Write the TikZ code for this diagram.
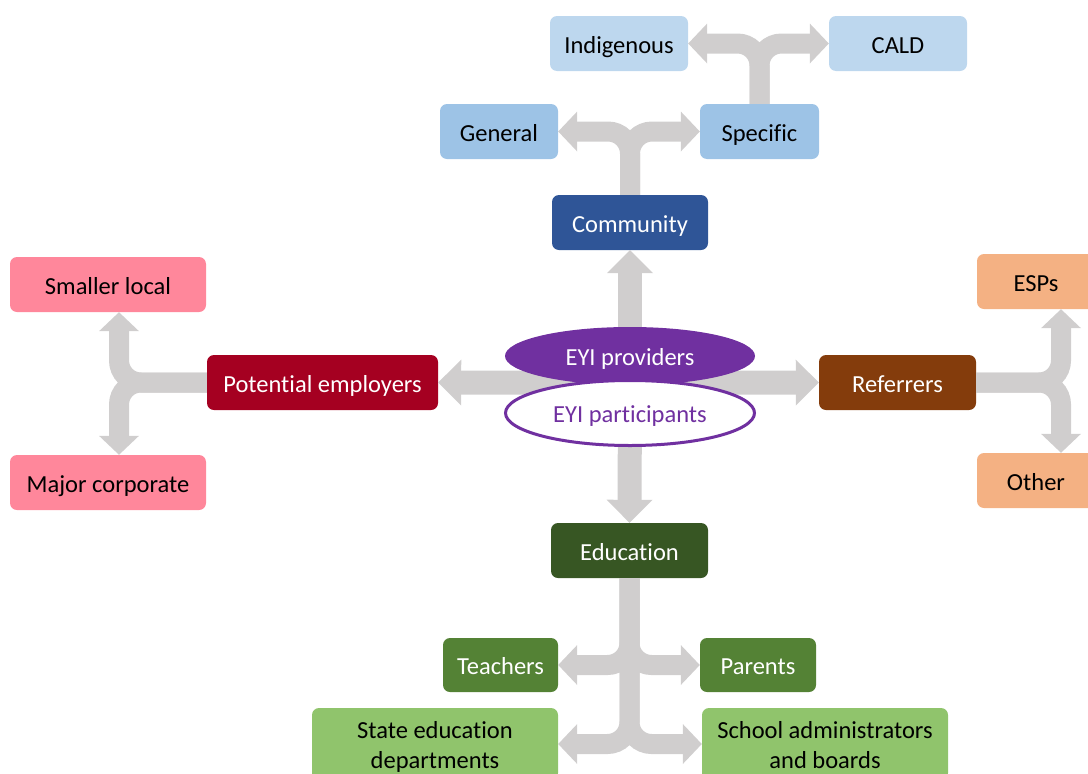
\documentclass[tikz,border=0pt]{standalone}
\usepackage{fontspec}
\setmainfont{Carlito}[Ligatures={NoCommon}]
\usetikzlibrary{arrows.meta,shapes.geometric}

\definecolor{arrowgray}{HTML}{D0CECE}
\definecolor{paleblue}{HTML}{BDD7EE}
\definecolor{midblue}{HTML}{9DC3E6}
\definecolor{darkblue}{HTML}{2F5597}
\definecolor{pinkbox}{HTML}{FF879B}
\definecolor{crimson}{HTML}{A50021}
\definecolor{rust}{HTML}{843C0C}
\definecolor{peach}{HTML}{F4B183}
\definecolor{forest}{HTML}{375623}
\definecolor{leaf}{HTML}{548235}
\definecolor{lightleaf}{HTML}{90C46C}
\definecolor{eyipurple}{HTML}{7030A0}

\tikzset{
  label font/.style={font=\fontsize{24.5}{29.5}\selectfont,
    text height=22pt, text depth=3pt},
  twoline/.style={text height=51pt},
  box/.style={rectangle, rounded corners=7pt, inner sep=0pt, align=center,
    label font, text=black},
  darkbox/.style={box, text=white},
  fork/.style={draw=arrowgray, line width=20pt, rounded corners=22pt,
    -{Triangle[length=19pt,width=40pt,line width=0pt]}},
  spoke/.style={draw=arrowgray, line width=24pt,
    -{Triangle[length=23pt,width=46pt,line width=0pt]}},
  hub/.style={ellipse, inner sep=0pt, label font},
}

\begin{document}
\begin{tikzpicture}[x=1pt,y=-1pt]
\useasboundingbox (0,0) rectangle (1088,774);
\clip (0,0) rectangle (1088,774);

% community branch
\node[box, fill=paleblue, minimum width=138pt, minimum height=55pt] (ind) at (619,43.5) {Indigenous};
\node[box, fill=paleblue, minimum width=138pt, minimum height=55pt] (cald) at (898,43.5) {CALD};
\node[box, fill=midblue, minimum width=118pt, minimum height=55pt] (gen) at (499,131.5) {General};
\node[box, fill=midblue, minimum width=119pt, minimum height=55pt] (spec) at (759.5,131.5) {Specific};
\node[darkbox, fill=darkblue, minimum width=156pt, minimum height=55pt] (comm) at (630,222.5) {Community};

% employers branch
\node[box, fill=pinkbox, minimum width=196pt, minimum height=55pt] (small) at (108,284.5) {Smaller local};
\node[darkbox, fill=crimson, minimum width=231pt, minimum height=55pt] (emp) at (322.5,382.5) {Potential employers};
\node[box, fill=pinkbox, minimum width=196pt, minimum height=55pt] (major) at (108,482.5) {Major corporate};

% referrers branch
\node[darkbox, fill=rust, minimum width=157pt, minimum height=55pt] (ref) at (897.5,382.5) {Referrers};
\node[box, fill=peach, minimum width=118pt, minimum height=55pt] (esp) at (1036,281.5) {ESPs};
\node[box, fill=peach, minimum width=118pt, minimum height=55pt] (other) at (1036,480.5) {Other};

% education branch
\node[darkbox, fill=forest, minimum width=157pt, minimum height=55pt] (edu) at (629.5,550.5) {Education};
\node[darkbox, fill=leaf, minimum width=115pt, minimum height=54pt] (teach) at (500.5,665) {Teachers};
\node[darkbox, fill=leaf, minimum width=116pt, minimum height=54pt] (par) at (758,665) {Parents};
\node[box, twoline, fill=lightleaf, minimum width=246pt, minimum height=72pt] (state) at (435,744) {State education\\departments};
\node[box, twoline, fill=lightleaf, minimum width=246pt, minimum height=72pt] (school) at (825,744) {School administrators\\and boards};

% junction points of the side forks
\coordinate (hubc) at (630,383);
\coordinate (jE) at (119,382.5);
\coordinate (jR) at (1061,382.5);

% main spokes from the centre
\draw[spoke] (hubc) -- (comm.south);
\draw[spoke] (hubc) -- (edu.north);
\draw[spoke] (hubc) -- (emp.east);
\draw[spoke] (hubc) -- (ref.west);

% forks
\draw[fork] (comm.north) -- (comm.north |- gen.east) -- (gen.east);
\draw[fork] (comm.north) -- (comm.north |- spec.west) -- (spec.west);
\draw[fork] (spec.north) -- (spec.north |- ind.east) -- (ind.east);
\draw[fork] (spec.north) -- (spec.north |- cald.west) -- (cald.west);
\draw[fork] (emp.west) -- (jE) -- (jE |- small.south);
\draw[fork] (emp.west) -- (jE) -- (jE |- major.north);
\draw[fork] (ref.east) -- (jR) -- (jR |- esp.south);
\draw[fork] (ref.east) -- (jR) -- (jR |- other.north);
\draw[fork] (edu.south) -- (edu.south |- teach.east) -- (teach.east);
\draw[fork] (edu.south) -- (edu.south |- par.west) -- (par.west);
\draw[fork] (edu.south) -- (edu.south |- state.east) -- (state.east);
\draw[fork] (edu.south) -- (edu.south |- school.west) -- (school.west);

% centre ellipses
\node[hub, fill=eyipurple, text=white, minimum width=250pt, minimum height=58pt] (prov) at (630,356) {EYI providers};
\node[hub, fill=white, draw=eyipurple, line width=3pt, text=eyipurple, minimum width=249pt, minimum height=65pt] (part) at (630,413) {EYI participants};
\end{tikzpicture}
\end{document}
